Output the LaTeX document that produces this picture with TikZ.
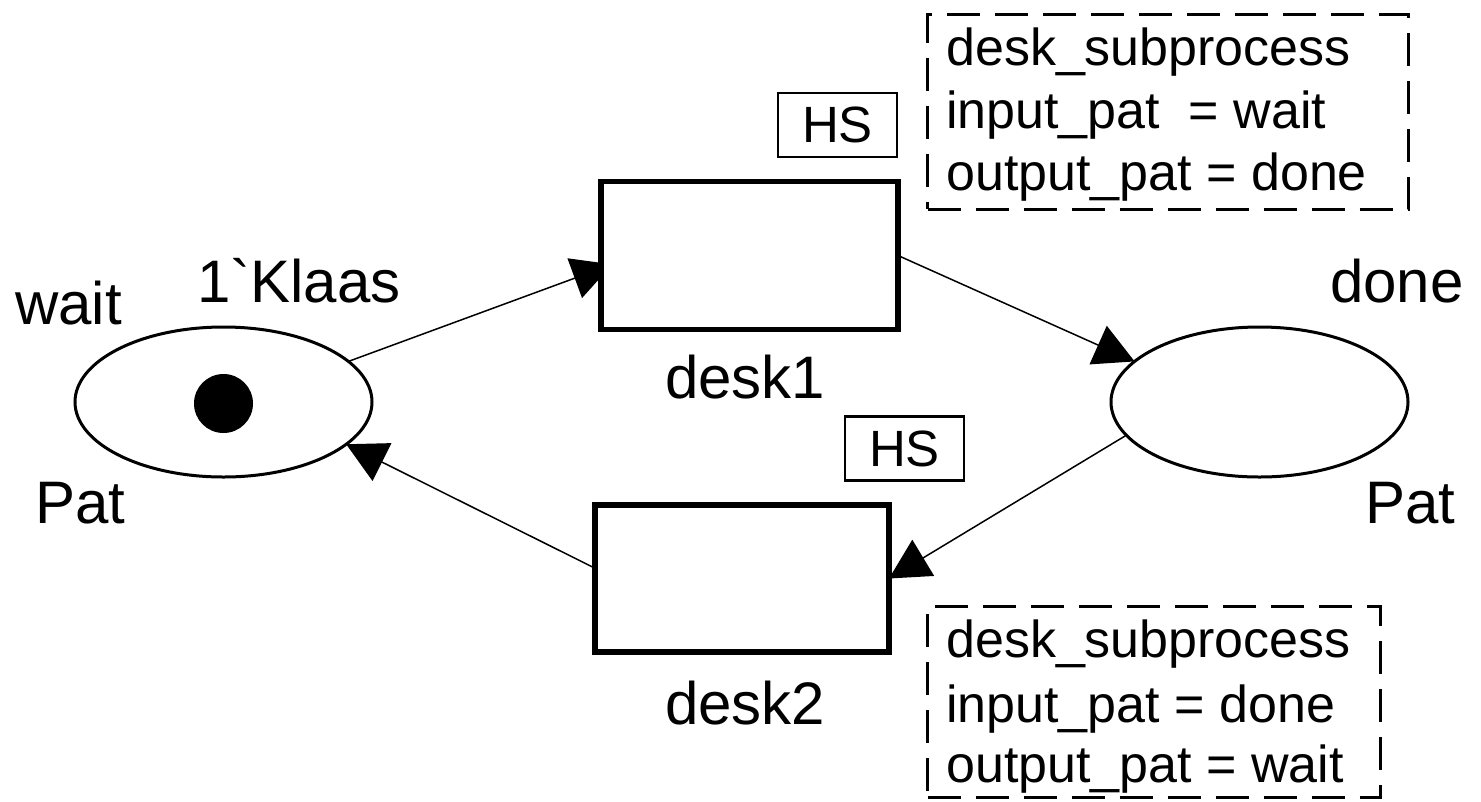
\documentclass[tikz,border=0pt]{standalone}
\usepackage{fontspec}
\newfontfamily\lsans{Liberation Sans}
\usetikzlibrary{shapes.geometric,arrows.meta,backgrounds}
\begin{document}
\begin{tikzpicture}[x=1pt,y=-1pt,
  place/.style={ellipse, draw, line width=3pt, fill=white, minimum width=297pt, minimum height=150pt, inner sep=0pt, outer sep=0pt},
  trans/.style={rectangle, draw, line width=5.5pt, fill=white, inner sep=0pt, outer sep=0pt},
  tokenstyle/.style={circle, fill=black, minimum size=59pt, inner sep=0pt},
  lbl/.style={inner sep=0pt, anchor=base west, font=\lsans\fontsize{60}{72}\selectfont},
  ann/.style={inner sep=0pt, anchor=base west, font=\lsans\fontsize{52}{62}\selectfont},
  hsbox/.style={rectangle, draw, line width=2.5pt, minimum width=119pt, minimum height=64pt, inner sep=0pt, font=\lsans\fontsize{51}{60}\selectfont},
  subbox/.style={rectangle, draw, line width=3pt, dash pattern=on 33pt off 15pt, inner sep=0pt, outer sep=0pt},
  arcstyle/.style={line width=1.5pt, -{Triangle[length=40pt,width=42pt]}},
]
\useasboundingbox (0,0) rectangle (1481,801);

% places
\node[place] (wait) at (223.5,402) {};
\node[place] (done) at (1259.5,402) {};
\node[tokenstyle] (tok) at (223.5,403.5) {};

% transitions
\node[trans, minimum width=297pt, minimum height=148pt] (desk1) at (749.5,255.5) {};
\node[trans, minimum width=294pt, minimum height=147pt] (desk2) at (742,578.5) {};

% labels
\node[lbl] (waitname) at (15,324) {wait};
\node[lbl] (waitcol) at (35,523) {Pat};
\node[lbl] (waitinit) at (197,302) {1`Klaas};
\node[lbl] (donename) at (1330,302) {done};
\node[lbl] (donecol) at (1365,523) {Pat};
\node[lbl] (d1name) at (665,398) {desk1};
\node[lbl] (d2name) at (665,724) {desk2};

% HS tags
\node[hsbox] (hs1) at (837.5,125) {HS};
\node[hsbox] (hs2) at (904.5,448.5) {HS};

% subprocess boxes
\node[subbox, minimum width=480.5pt, minimum height=195pt] (sub1) at (1167.75,111.5) {};
\node[subbox, minimum width=452.5pt, minimum height=191pt] (sub2) at (1153.75,701.5) {};
\node[ann] (s1a) at (946,65) {desk\_subprocess};
\node[ann] (s1b) at (946,128) {input\_pat~ = wait};
\node[ann] (s1c) at (946,190) {output\_pat = done};
\node[ann] (s2a) at (946,657) {desk\_subprocess};
\node[ann] (s2b) at (946,722) {input\_pat = done};
\node[ann] (s2c) at (946,782) {output\_pat = wait};

% arcs
\begin{scope}[on background layer]
\fill[white] (0,0) rectangle (1481,801);
\draw[arcstyle, shorten >=-12pt] (wait.18) -- (desk1.185);
\draw[arcstyle] (desk1.east) -- (done.162);
\draw[arcstyle] (done.194) -- (desk2.east);
\draw[arcstyle] (desk2.176) -- (wait.-19);
\end{scope}
\end{tikzpicture}
\end{document}
